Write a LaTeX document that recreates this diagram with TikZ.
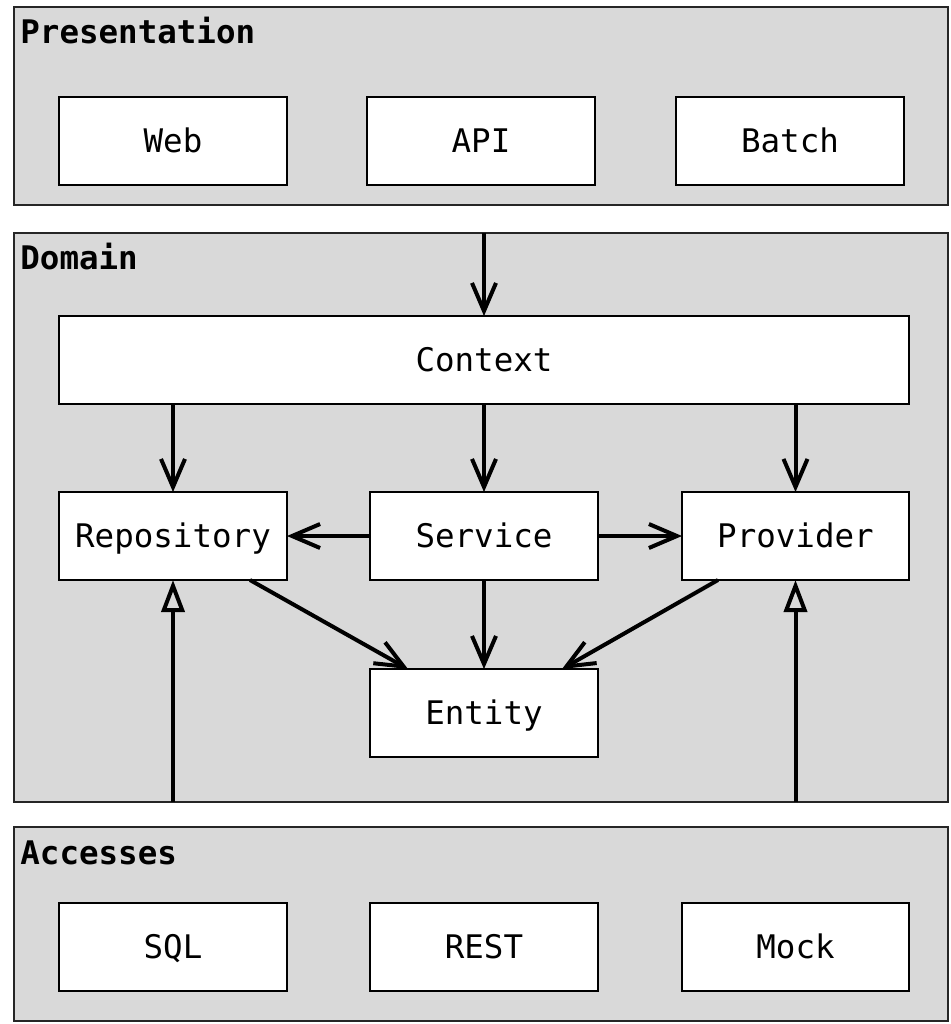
\documentclass[tikz,border=0pt]{standalone}
\usepackage{fontspec}
\setmonofont{DejaVu Sans Mono}
\usepackage{tikz}
\tikzstyle{layer}=[rectangle,draw=black!85,fill=gray!30,line width=1pt,anchor=north west,inner sep=0pt,outer sep=0pt,minimum width=467pt]
\tikzstyle{title}=[anchor=west,inner sep=0pt,text height=11.9pt,text depth=0pt,font=\ttfamily\bfseries\fontsize{16.25}{18}\selectfont]
\tikzstyle{block}=[rectangle,draw=black,fill=white,line width=1pt,inner sep=0pt,outer sep=0pt,text height=11.9pt,text depth=0pt,
minimum width=114pt,minimum height=44pt,font=\ttfamily\fontsize{16.25}{18}\selectfont]
\tikzstyle{varrow}=[line width=2pt,-{Straight Barb[length=14pt,width=12pt]}]
\tikzstyle{tarrow}=[line width=2pt,-{Triangle[open,length=16pt,width=11.5pt]}]
\usetikzlibrary{arrows.meta,positioning,calc}

\begin{document}
\begin{tikzpicture}[x=0.5pt,y=-0.5pt]
            \useasboundingbox (0,0) rectangle (950,1024);

            % Presentation PART

            \node[layer,minimum height=99pt] (pres) at (14,7) {};
            \node[title] (prestitle) at (20,32) {Presentation};
            \node[block,anchor=north west] (web) at (59,97) {Web};
            \node[block,right=40pt of web] (api) {API};
            \node[block,right=40.5pt of api] (batch) {Batch};

            % Domain PART

            \node[layer,minimum height=284.5pt] (dom) at (14,233) {};
            \node[title] (domtitle) at (20,258) {Domain};
            \node[block,anchor=north west,minimum width=425pt] (ctx) at (59,316) {Context};
            \node[block,anchor=north west] (repo) at (59,492) {Repository};
            \node[block,right=41.5pt of repo] (svc) {Service};
            \node[block,right=42pt of svc,minimum width=113.5pt] (prov) {Provider};
            \node[block,below=44.5pt of svc] (ent) {Entity};

            \path[varrow] (dom.north -| ctx.north) edge (ctx.north);
            \path[varrow] (ctx.south -| repo.north) edge (repo.north);
            \path[varrow] (ctx.south -| svc.north) edge (svc.north);
            \path[varrow] (ctx.south -| prov.north) edge (prov.north);
            \path[varrow] (svc.west) edge (repo.east);
            \path[varrow] (svc.east) edge (prov.west);
            \path[varrow] (svc.south) edge (ent.north);
            \path[varrow] ($(repo.south east)+(-37,0)$) edge ($(ent.north west)+(38,0)$);
            \path[varrow] ($(prov.south west)+(36,0)$) edge ($(ent.north east)+(-36,0)$);

            % Accesses PART

            \node[layer,minimum height=97pt] (acc) at (14,827) {};
            \node[title] (acctitle) at (20,853) {Accesses};
            \node[block,anchor=north west] (sql) at (59,903) {SQL};
            \node[block,right=41.5pt of sql] (rest) {REST};
            \node[block,right=42pt of rest,minimum width=113.5pt] (mock) {Mock};

            % Accesses into Domain

            \path[tarrow] (dom.south -| repo.south) edge (repo.south);
            \path[tarrow] (dom.south -| prov.south) edge (prov.south);

        \end{tikzpicture}
\end{document}
